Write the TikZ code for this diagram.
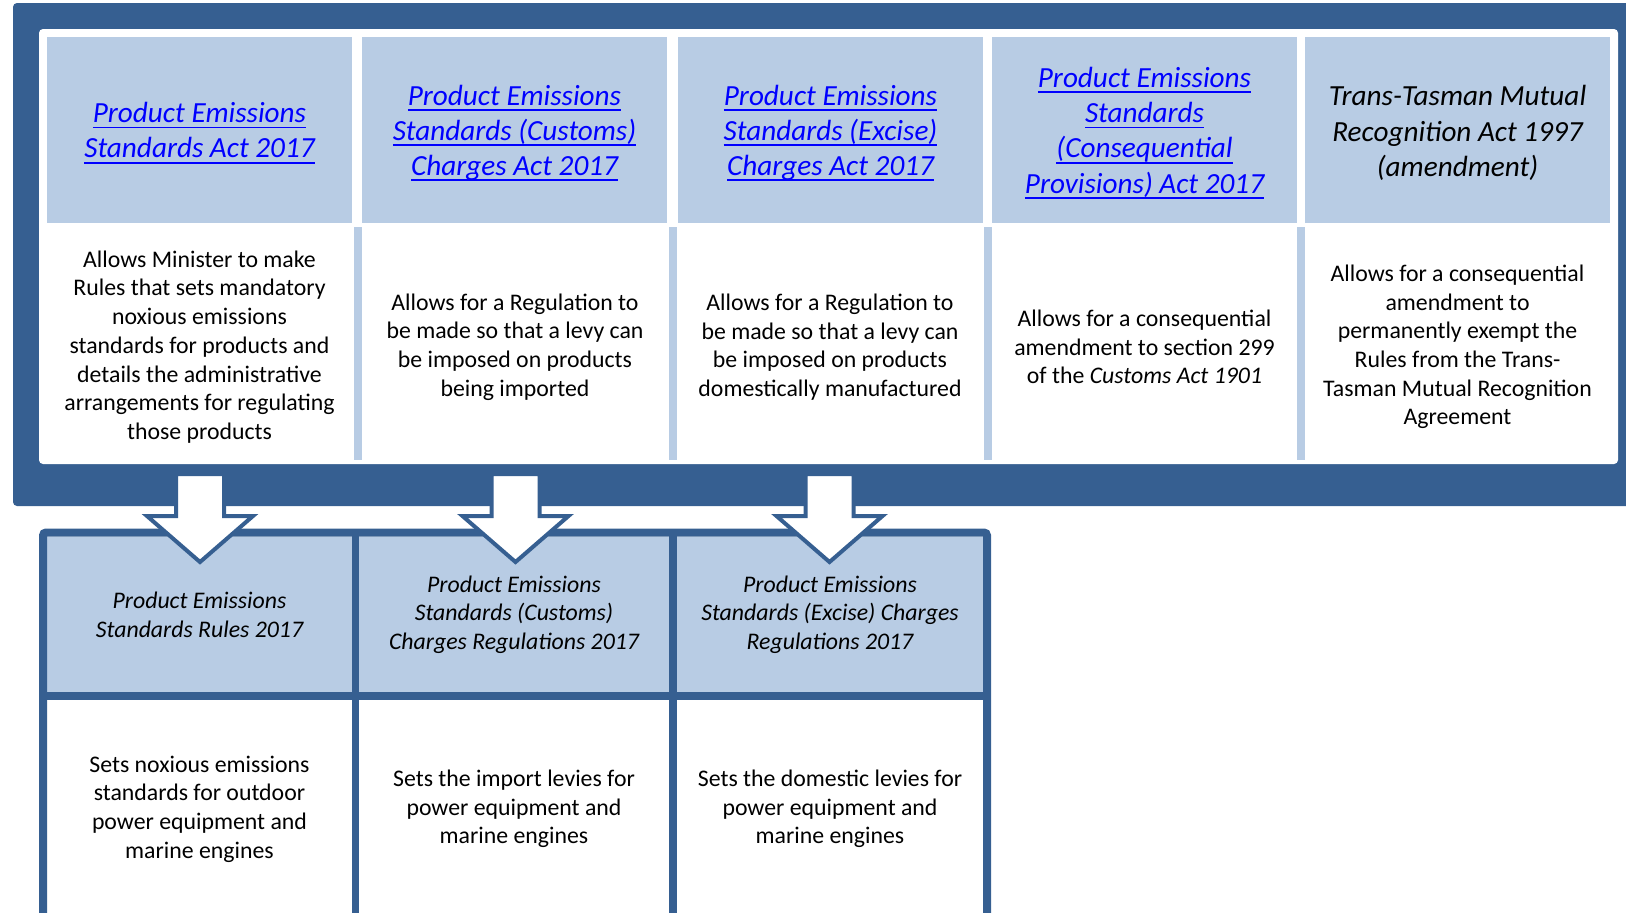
\documentclass[tikz,border=0pt]{standalone}
\usepackage{fontspec}
\setmainfont{Carlito}
\definecolor{dblue}{HTML}{365F91}
\definecolor{lblue}{HTML}{B8CCE4}
\definecolor{lnkblue}{HTML}{0000FF}
\newsavebox\lkbox
\newcommand\lk[1]{\sbox\lkbox{#1}\rlap{\rule[-2.8pt]{\wd\lkbox}{0.9pt}}\usebox\lkbox}
\tikzset{
  hdrbox/.style={fill=lblue, inner sep=0pt, minimum width=152.5pt, minimum height=93pt, align=center},
  hdrtext/.style={align=center, inner sep=0pt, font=\fontsize{14.6}{17.6}\selectfont\itshape},
  lnktext/.style={text=lnkblue},
  bodytext/.style={align=center, inner sep=0pt, font=\fontsize{11.9}{14.35}\selectfont},
  strip/.style={fill=lblue},
  lowhdr/.style={fill=lblue, inner sep=0pt, minimum height=77.5pt, align=center,
    font=\fontsize{11.9}{14.35}\selectfont\itshape},
  arrowbox/.style={draw=dblue, fill=white, line width=2pt, line join=miter},
  blockarr/.pic={\path[arrowbox] (-24,0) -- (-24,42) -- (-53,42) -- (0,88) -- (53,42) -- (24,42) -- (24,0) -- cycle;}
}
\begin{document}
\begin{tikzpicture}[x=0.5pt,y=-0.5pt]
\useasboundingbox (0,0) rectangle (1626,912);
\clip (0,0) rectangle (1626,912);
% outer dark frame
\fill[dblue, rounded corners=2pt] (13,3) rectangle (1660,506);
% white panel
\fill[white, rounded corners=2pt] (39,29) rectangle (1618,464);
% header cells
\node[hdrbox] (h1) at (199.5,130) {};
\node[hdrbox] (h2) at (514.5,130) {};
\node[hdrbox] (h3) at (830.5,130) {};
\node[hdrbox] (h4) at (1144.5,130) {};
\node[hdrbox] (h5) at (1457.5,130) {};
% header texts
\node[hdrtext, lnktext] (h1t) at (199.5,133) {\lk{Product Emissions}\\\lk{Standards Act 2017}};
\node[hdrtext, lnktext] (h2t) at (514.5,133) {\lk{Product Emissions}\\\lk{Standards (Customs)}\\\lk{Charges Act 2017}};
\node[hdrtext, lnktext] (h3t) at (830.5,133) {\lk{Product Emissions}\\\lk{Standards (Excise)}\\\lk{Charges Act 2017}};
\node[hdrtext, lnktext] (h4t) at (1144.5,133) {\lk{Product Emissions}\\\lk{Standards}\\\lk{(Consequential}\\\lk{Provisions) Act 2017}};
\node[hdrtext] (h5t) at (1457.5,133) {Trans-Tasman Mutual\\Recognition Act 1997\\(amendment)};
% strips
\fill[strip] (354,227) rectangle (362,460);
\fill[strip] (669,227) rectangle (677,460);
\fill[strip] (984,227) rectangle (992,460);
\fill[strip] (1297,227) rectangle (1305,460);
% body texts
\node[bodytext] (t1) at (199.5,347) {Allows Minister to make\\Rules that sets mandatory\\noxious emissions\\standards for products and\\details the administrative\\arrangements for regulating\\those products};
\node[bodytext] (t2) at (515,347) {Allows for a Regulation to\\be made so that a levy can\\be imposed on products\\being imported};
\node[bodytext] (t3) at (830,347) {Allows for a Regulation to\\be made so that a levy can\\be imposed on products\\domestically manufactured};
\node[bodytext] (t4) at (1144.5,347) {Allows for a consequential\\amendment to section 299\\of the \textit{Customs Act 1901}};
\node[bodytext] (t5) at (1457.5,347) {Allows for a consequential\\amendment to\\permanently exempt the\\Rules from the Trans-\\Tasman Mutual Recognition\\Agreement};
% lower table
\node[lowhdr, minimum width=152.5pt] (b1) at (199.5,614.5) {Product Emissions\\Standards Rules 2017};
\node[lowhdr, minimum width=155pt] (b2) at (514,614.5) {Product Emissions\\Standards (Customs)\\Charges Regulations 2017};
\node[lowhdr, minimum width=153pt] (b3) at (830,614.5) {Product Emissions\\Standards (Excise) Charges\\Regulations 2017};
\draw[dblue, line width=4pt, rounded corners=1.5pt] (43,940) -- (43,532.5) -- (987,532.5) -- (987,940);
\draw[dblue, line width=4pt] (43,696) -- (987,696);
\draw[dblue, line width=3.5pt] (355.5,532.5) -- (355.5,940);
\draw[dblue, line width=4pt] (673,532.5) -- (673,940);
\node[bodytext] (c1) at (199.5,809) {Sets noxious emissions\\standards for outdoor\\power equipment and\\marine engines};
\node[bodytext] (c2) at (514,809) {Sets the import levies for\\power equipment and\\marine engines};
\node[bodytext] (c3) at (830,809) {Sets the domestic levies for\\power equipment and\\marine engines};
% block arrows
\coordinate (a1) at (200,474);
\coordinate (a2) at (515.5,474);
\coordinate (a3) at (829.5,474);
\pic at (a1) {blockarr};
\pic at (a2) {blockarr};
\pic at (a3) {blockarr};
\end{tikzpicture}
\end{document}
